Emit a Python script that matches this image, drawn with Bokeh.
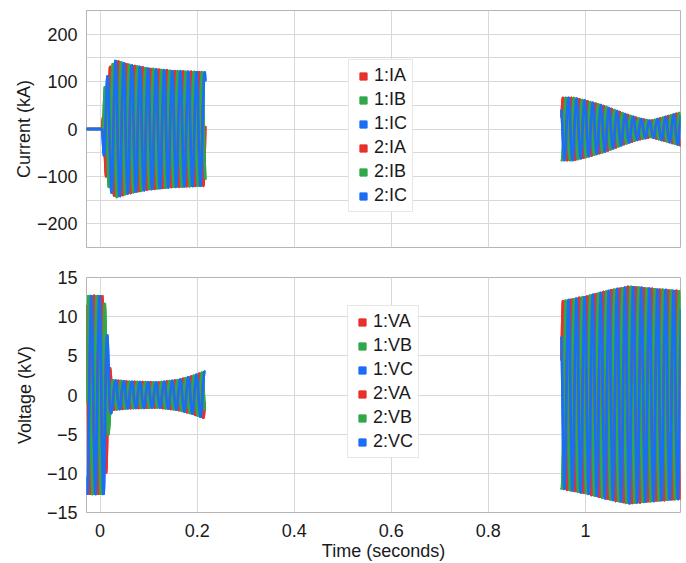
import numpy as np
from bokeh.plotting import figure
from bokeh.layouts import column
from bokeh.models import (Range1d, FixedTicker, CustomJSTickFormatter, Legend,
                          LegendItem)
from bokeh.embed import file_html
from bokeh.resources import INLINE

# ---------------- data ----------------
freq_hz = 60.0                      # system frequency of the oscillations
phase_names = ["A", "B", "C"]
phase_deg = [0.0, -120.0, 120.0]
phase_colors = ["#e8302c", "#2fa84a", "#1a6ef5"]
devices = ["1", "2"]

# current envelope (peak kA) – first window (pre-fault flat, then fault)
cur1_t = [-0.028, 0.004, 0.010, 0.020, 0.032, 0.060, 0.100, 0.150, 0.217]
cur1_pk = [0, 0, 90, 130, 145, 136, 128, 123, 120]
# current envelope – second window (beating)
cur2_t = [0.951, 0.975, 1.000, 1.040, 1.080, 1.110, 1.135, 1.160, 1.197]
cur2_pk = [66, 66, 60, 48, 32, 22, 17, 24, 35]

# voltage envelope (peak kV) – first window
volt1_t = [-0.028, 0.008, 0.013, 0.018, 0.024, 0.060, 0.120, 0.160, 0.190, 0.216]
volt1_pk = [12.7, 12.7, 9.5, 4.5, 1.9, 1.7, 1.6, 1.9, 2.4, 3.0]
# voltage envelope – second window
volt2_t = [0.951, 1.000, 1.050, 1.090, 1.140, 1.197]
volt2_pk = [12.0, 12.6, 13.4, 13.9, 13.6, 13.3]

x_range = (-0.028, 1.196)
cur_range = (-250, 250)
volt_range = (-15, 15)
x_ticks = [0, 0.2, 0.4, 0.6, 0.8, 1.0]
cur_ticks = [-200, -100, 0, 100, 200]
cur_grid = [-200, -150, -100, -50, 0, 50, 100, 150, 200]
volt_ticks = [-15, -10, -5, 0, 5, 10, 15]
volt_grid = [-10, -5, 0, 5, 10]

FONT = "Liberation Sans"
TXT = "#1a1a1a"
FS = "18px"


def wave(segments, phase):
    ts, ys = [], []
    for kt, kp in segments:
        t = np.arange(kt[0], kt[-1], 0.0002)
        env = np.interp(t, kt, kp)
        y = env * np.sin(2 * np.pi * freq_hz * t + np.deg2rad(phase))
        ts += list(t) + [np.nan]
        ys += list(y) + [np.nan]
    return ts, ys


fmt = CustomJSTickFormatter(code="""
const a = Math.round(Math.abs(tick) * 1000) / 1000;
return (tick < 0 ? "\\u2212" : "") + String(a);
""")


def make_fig(height, yr, yticks, ygrid, ylabel, segs, qty, show_x, b_top, b_bot,
             lab_stand, leg_loc):
    p = figure(width=681, height=height, output_backend="svg",
               toolbar_location=None, x_range=Range1d(*x_range),
               y_range=Range1d(*yr), min_border_left=86, min_border_right=1,
               min_border_top=b_top, min_border_bottom=b_bot)
    p.background_fill_color = "white"
    p.border_fill_color = "white"
    p.outline_line_color = "#b5b5b5"
    p.outline_line_width = 1

    p.yaxis.ticker = FixedTicker(ticks=yticks)
    p.ygrid.ticker = FixedTicker(ticks=ygrid)
    p.xaxis.ticker = FixedTicker(ticks=x_ticks)
    p.xgrid.ticker = FixedTicker(ticks=x_ticks)
    for g in (p.xgrid, p.ygrid):
        g.grid_line_color = "#d8d8d8"
        g.grid_line_width = 1

    for ax in (p.xaxis, p.yaxis):
        ax.formatter = fmt
        ax.axis_line_color = None
        ax.major_tick_line_color = None
        ax.minor_tick_line_color = None
        ax.major_tick_out = 0
        ax.major_tick_in = 0
        ax.minor_tick_out = 0
        ax.minor_tick_in = 0
        ax.major_label_text_font = FONT
        ax.major_label_text_font_size = FS
        ax.major_label_text_color = TXT
        ax.axis_label_text_font = FONT
        ax.axis_label_text_font_size = FS
        ax.axis_label_text_font_style = "normal"
        ax.axis_label_text_color = TXT
    p.yaxis.axis_label = ylabel
    p.yaxis.major_label_standoff = 9
    p.yaxis.axis_label_standoff = lab_stand
    if show_x:
        p.xaxis.axis_label = "Time (seconds)"
        p.xaxis.major_label_standoff = 11
        p.xaxis.axis_label_standoff = 1
    else:
        p.xaxis.visible = False

    items = []
    for dev in devices:
        for name, ph, col in zip(phase_names, phase_deg, phase_colors):
            tx, ty = wave(segs, ph)
            p.line(tx, ty, line_color=col, line_width=2.6)
            key = p.scatter(tx[:1], ty[:1], marker="square", size=8,
                            fill_color=col, line_color=col, visible=False)
            items.append(LegendItem(label=f"{dev}:{qty}{name}", renderers=[key]))

    leg = Legend(items=items, location=leg_loc, glyph_width=18, glyph_height=20,
                 label_height=20, spacing=3, padding=5, margin=0,
                 label_standoff=2, label_text_font=FONT,
                 label_text_font_size=FS, label_text_color=TXT,
                 border_line_color="#cfcfcf", background_fill_color="white",
                 background_fill_alpha=1.0)
    p.add_layout(leg, "center")
    return p


p1 = make_fig(261, cur_range, cur_ticks, cur_grid, "Current (kA)",
              [(cur1_t, cur1_pk), (cur2_t, cur2_pk)], "I", False, 10, 14, 0,
              (262, 35))
p2 = make_fig(302, volt_range, volt_ticks, volt_grid, "Voltage (kV)",
              [(volt1_t, volt1_pk), (volt2_t, volt2_pk)], "V", True, 16, 50, 9,
              (261, 54))

layout = column(p1, p2, spacing=0)
open("out.html", "w").write(file_html(layout, INLINE))
